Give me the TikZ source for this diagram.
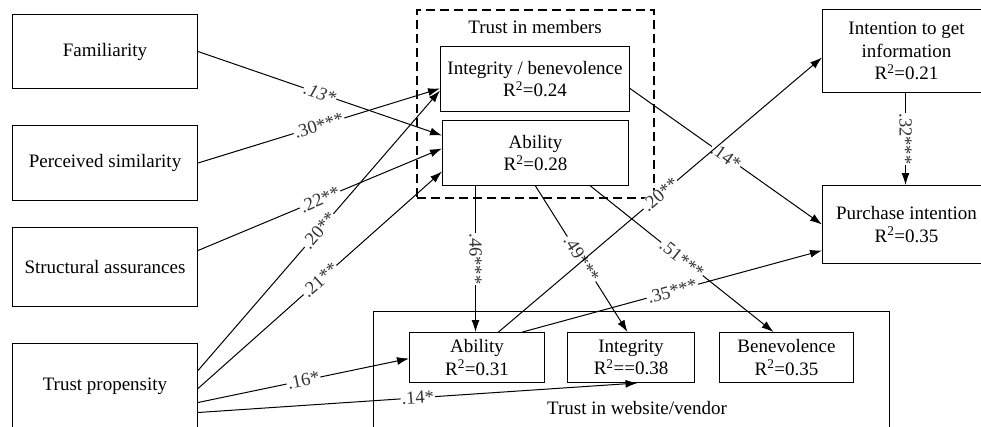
\documentclass[tikz,border=0pt]{standalone}
\usepackage{fontspec}
\setmainfont{Liberation Serif}
\usetikzlibrary{arrows.meta, positioning}

\begin{document}
\begin{tikzpicture}[
		x=1pt, y=-1pt,
		box/.style={draw, line width=1pt, anchor=north west, align=center, inner sep=0pt,
			font=\fontsize{19}{22.5}\selectfont},
		group/.style={draw, anchor=north west, inner sep=0pt},
		grouptitle/.style={font=\fontsize{19}{22}\selectfont, inner sep=0pt},
		arrow/.style={-{Latex[length=12pt,width=8pt]}, line width=1pt},
		coef/.style={midway, sloped, fill=white, inner sep=1pt, text=black!80, font=\fontsize{18.5}{20}\selectfont},
		coefdown/.style={midway, rotate=-90, fill=white, inner sep=1pt, text=black!80, font=\fontsize{18.5}{20}\selectfont}
	]
		\useasboundingbox (0,0) rectangle (981,426);
		% the two groups
		\node[group, line width=2pt, dash pattern=on 9pt off 5pt, minimum width=237pt, minimum height=188pt] (mem) at (416,9) {};
		\node[grouptitle] (memtitle) at (535,27) {Trust in members};
		\node[group, line width=1pt, minimum width=516pt, minimum height=130pt] (web) at (373,311) {};
		\node[grouptitle] (webtitle) at (637,408) {Trust in website/vendor};
		% antecedents
		\node[box, minimum width=185pt, minimum height=74pt] (fam) at (12,14) {Familiarity};
		\node[box, minimum width=185pt, minimum height=75pt] (sim) at (12,125) {Perceived similarity};
		\node[box, minimum width=185pt, minimum height=79pt] (assur) at (12,227) {Structural assurances};
		\node[box, minimum width=185pt, minimum height=86pt] (prop) at (12,343) {Trust propensity};
		% trust in members
		\node[box, minimum width=189pt, minimum height=65pt] (ib) at (440,46) {Integrity / benevolence\\R\textsuperscript{2}=0.24};
		\node[box, minimum width=186pt, minimum height=65pt] (abm) at (442,120) {Ability\\R\textsuperscript{2}=0.28};
		% trust in website/vendor
		\node[box, minimum width=135pt, minimum height=50pt] (abw) at (409,332) {Ability\\R\textsuperscript{2}=0.31};
		\node[box, minimum width=127pt, minimum height=50pt] (intw) at (567,332) {Integrity\\R\textsuperscript{2}==0.38};
		\node[box, minimum width=134pt, minimum height=50pt] (benw) at (719,332) {Benevolence\\R\textsuperscript{2}=0.35};
		% outcomes
		\node[box, minimum width=168pt, minimum height=83pt] (intent) at (822,9) {Intention to get\\information\\R\textsuperscript{2}=0.21};
		\node[box, minimum width=168pt, minimum height=78pt] (purch) at (822,185) {Purchase intention\\R\textsuperscript{2}=0.35};
		% paths
		\draw[arrow] (fam.east) -- ([yshift=17.5pt]abm.west) node[coef] {\textit{.13*}};
		\draw[arrow] (sim.east) -- ([yshift=-9.5pt]ib.west) node[coef] {.30***};
		\draw[arrow] ([yshift=16.5pt]assur.east) -- ([yshift=4.5pt]abm.west) node[coef] {.22**};
		\draw[arrow] ([yshift=16pt]prop.east) -- ([yshift=-11.5pt]ib.west) node[coef] {.20**};
		\draw[arrow] ([yshift=-2pt]prop.east) -- ([yshift=-18.5pt]abm.west) node[coef] {.21**};
		\draw[arrow] ([yshift=-16pt]prop.east) -- ([yshift=-1pt]abw.west) node[coef] {.16*};
		\draw[arrow] ([yshift=-26pt]prop.east) -- ([xshift=6.5pt]intw.south) node[coef] {.14*};
		\draw[arrow] ([xshift=-60pt]abm.south) -- ([xshift=-1.5pt]abw.north) node[coefdown] {.46***};
		\draw[arrow] (abm.south) -- ([xshift=-3.5pt]intw.north) node[coef] {.49***};
		\draw[arrow] ([xshift=55pt]abm.south) -- ([xshift=-13pt]benw.north) node[coef] {.51***};
		\draw[arrow] ([yshift=-9.5pt]ib.east) -- (purch.west) node[coef] {.14*};
		\draw[arrow] ([xshift=21.5pt]abw.north) -- ([yshift=-6.5pt]intent.west) node[coef] {.20**};
		\draw[arrow] ([xshift=45.5pt]abw.north) -- ([yshift=-26pt]purch.west) node[coef] {.35***};
		\draw[arrow] ([xshift=-1pt]intent.south) -- ([xshift=-1pt]purch.north) node[coefdown] {.32***};
	\end{tikzpicture}
\end{document}
